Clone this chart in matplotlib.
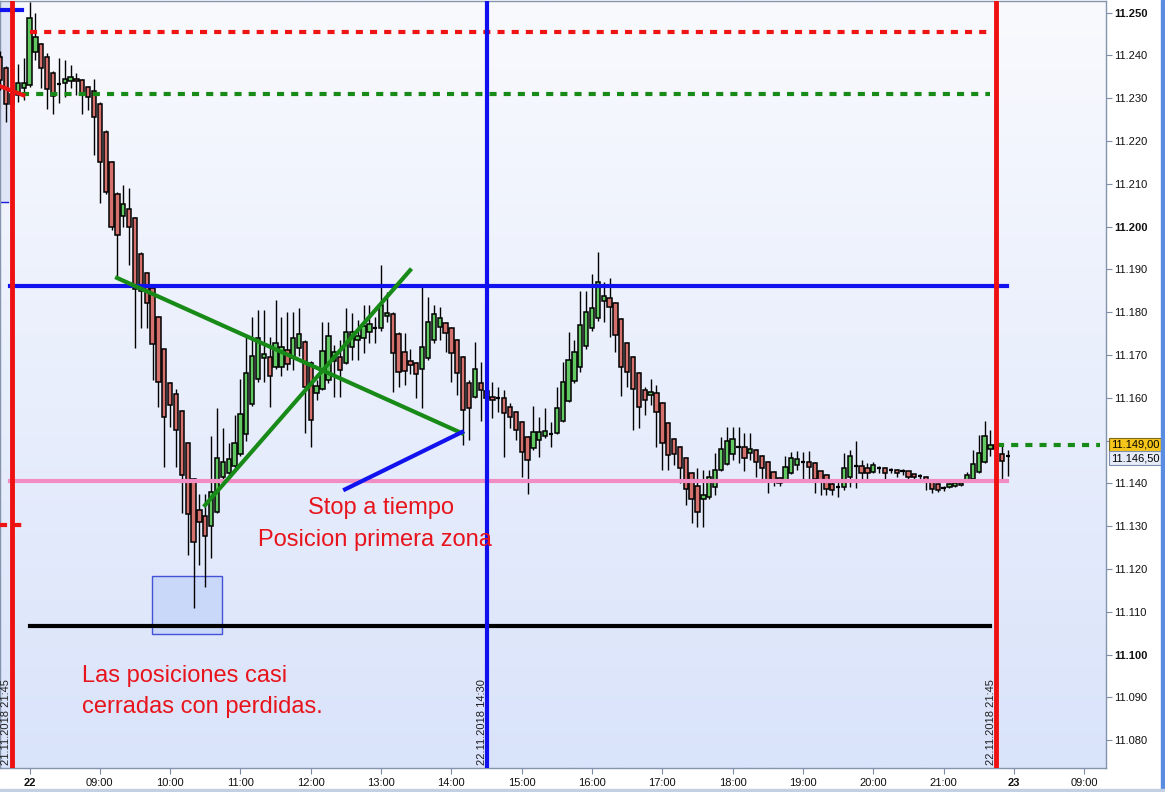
import numpy as np
import matplotlib
matplotlib.use("Agg")
import matplotlib.pyplot as plt
import matplotlib.transforms as mtransforms
from matplotlib.colors import LinearSegmentedColormap
from matplotlib.patches import Rectangle

plt.rcParams['font.family'] = ['Liberation Sans', 'DejaVu Sans']

# velas de 5 minutos; tiempo en horas desde las 08:00 del 22.11
# las 5 primeras son las de 21:35-21:55 del 21.11
t_prev = [-25/60, -20/60, -15/60, -10/60, -5/60]
t_dia = [k/12 for k in range(168)]

opens = [11239.6, 11237.0, 11228.6, 11230.7, 11232.3,
    11233.0, 11240.7, 11242.6, 11239.6, 11235.8, 11233.3, 11233.5, 11234.0, 11234.4, 11234.2,
    11232.6, 11231.6, 11228.6, 11222.1, 11215.0, 11207.6, 11202.4, 11204.1, 11202.0, 11193.5,
    11189.1, 11185.6, 11178.8, 11171.3, 11163.4, 11160.9, 11156.9, 11149.4, 11141.0, 11133.7,
    11132.3, 11130.0, 11133.2, 11141.5, 11142.4, 11144.0, 11146.8, 11151.5, 11158.5, 11164.4,
    11169.3, 11169.5, 11167.2, 11167.2, 11171.1, 11169.3, 11171.6, 11173.0, 11168.1, 11161.0,
    11162.0, 11164.1, 11168.6, 11169.5, 11168.1, 11171.8, 11173.5, 11173.9, 11175.3, 11176.2,
    11176.2, 11179.0, 11179.5, 11174.9, 11170.7, 11168.6, 11168.1, 11166.7, 11169.3, 11173.5,
    11176.5, 11177.4, 11176.2, 11173.5, 11169.5, 11163.4, 11160.1, 11163.4, 11161.5, 11160.1,
    11159.9, 11159.9, 11157.8, 11156.6, 11154.3, 11150.8, 11148.2, 11150.1, 11151.0, 11151.5,
    11151.7, 11154.5, 11159.2, 11163.9, 11167.2, 11172.1, 11176.2, 11178.6, 11182.6, 11183.3,
    11182.1, 11178.4, 11172.8, 11169.5, 11165.8, 11161.8, 11160.6, 11161.1, 11158.7, 11154.0,
    11150.3, 11148.5, 11145.9, 11142.4, 11139.3, 11136.3, 11136.8, 11139.1, 11143.1, 11144.5,
    11146.9, 11148.5, 11148.5, 11147.0, 11147.8, 11146.4, 11145.0, 11142.6, 11141.2, 11140.8,
    11142.4, 11144.3, 11145.0, 11145.0, 11144.7, 11142.8, 11141.9, 11139.8, 11139.1, 11139.1,
    11141.5, 11144.0, 11144.0, 11143.6, 11142.6, 11143.6, 11143.6, 11143.1, 11143.1, 11142.8,
    11142.8, 11142.1, 11141.7, 11141.5, 11140.3, 11139.8, 11138.9, 11139.1, 11139.4, 11139.6,
    11140.6, 11141.0, 11142.6, 11145.0, 11148.0, 11149.0, 11146.8, 11146.5]

highs = [11241.0, 11237.5, 11233.0, 11237.9, 11239.3,
    11252.4, 11249.9, 11242.9, 11240.5, 11236.3, 11239.3, 11238.9, 11237.7, 11235.8, 11234.5,
    11232.8, 11234.4, 11229.0, 11222.5, 11215.3, 11208.0, 11209.7, 11209.0, 11202.3, 11194.0,
    11189.5, 11186.0, 11179.2, 11171.5, 11163.6, 11162.0, 11157.1, 11149.6, 11141.2, 11137.5,
    11137.5, 11151.0, 11157.6, 11152.9, 11149.4, 11156.0, 11164.4, 11174.9, 11178.8, 11180.4,
    11180.4, 11174.2, 11182.8, 11178.8, 11180.0, 11180.0, 11180.9, 11173.5, 11168.5, 11164.1,
    11177.7, 11177.7, 11172.3, 11173.5, 11180.9, 11179.7, 11178.1, 11181.6, 11181.6, 11178.8,
    11191.0, 11184.6, 11180.0, 11175.3, 11175.1, 11171.3, 11168.4, 11185.8, 11183.5, 11181.6,
    11181.1, 11177.7, 11176.5, 11173.8, 11169.8, 11164.1, 11173.0, 11168.3, 11163.0, 11163.6,
    11162.5, 11161.8, 11158.7, 11156.9, 11154.5, 11151.0, 11158.0, 11155.5, 11157.6, 11154.3,
    11162.5, 11168.3, 11175.3, 11173.5, 11184.9, 11184.9, 11188.9, 11194.0, 11187.0, 11187.9,
    11182.3, 11178.6, 11173.0, 11169.8, 11166.0, 11162.5, 11164.4, 11163.0, 11159.0, 11154.3,
    11150.6, 11148.7, 11146.1, 11142.6, 11143.6, 11143.1, 11143.1, 11147.0, 11150.8, 11153.1,
    11153.1, 11153.1, 11151.7, 11151.7, 11148.0, 11146.6, 11145.2, 11142.8, 11141.4, 11146.4,
    11147.3, 11147.5, 11147.3, 11147.5, 11144.9, 11143.0, 11142.1, 11140.8, 11140.8, 11147.0,
    11147.8, 11149.9, 11145.4, 11144.7, 11145.0, 11144.0, 11143.8, 11143.6, 11143.3, 11143.3,
    11143.0, 11142.3, 11142.1, 11141.7, 11140.5, 11140.0, 11139.4, 11140.0, 11140.3, 11140.3,
    11142.6, 11147.8, 11151.2, 11154.5, 11152.4, 11150.5, 11148.9, 11147.8]

lows = [11232.0, 11224.4, 11226.0, 11229.1, 11229.5,
    11232.5, 11238.9, 11232.3, 11227.4, 11226.3, 11228.8, 11230.2, 11232.3, 11230.7, 11226.3,
    11227.2, 11216.7, 11205.5, 11207.5, 11199.2, 11188.0, 11199.9, 11191.0, 11171.6, 11176.4,
    11176.4, 11164.1, 11157.8, 11143.8, 11153.1, 11143.8, 11133.0, 11123.2, 11110.8, 11120.9,
    11115.7, 11122.6, 11133.0, 11140.8, 11140.8, 11143.5, 11146.5, 11150.0, 11158.0, 11163.6,
    11163.6, 11157.8, 11166.8, 11165.0, 11166.5, 11166.5, 11169.7, 11151.7, 11148.5, 11159.4,
    11161.8, 11163.5, 11160.1, 11160.1, 11167.9, 11168.8, 11168.8, 11170.4, 11172.8, 11172.8,
    11175.5, 11177.7, 11161.3, 11162.5, 11163.0, 11165.5, 11159.9, 11157.6, 11168.8, 11172.8,
    11173.5, 11170.7, 11163.6, 11160.6, 11148.9, 11150.1, 11159.9, 11154.5, 11158.0, 11155.3,
    11156.6, 11146.1, 11152.9, 11150.1, 11141.5, 11137.5, 11147.8, 11146.1, 11150.6, 11148.5,
    11151.5, 11154.3, 11159.0, 11163.5, 11166.0, 11171.5, 11175.5, 11178.0, 11177.7, 11174.2,
    11170.7, 11160.4, 11162.5, 11152.4, 11152.9, 11155.9, 11158.3, 11148.5, 11143.1, 11143.1,
    11144.2, 11140.1, 11134.9, 11130.7, 11129.7, 11129.7, 11136.3, 11137.2, 11143.0, 11144.3,
    11145.4, 11144.7, 11142.8, 11145.4, 11141.5, 11140.8, 11137.7, 11139.4, 11139.4, 11140.6,
    11142.2, 11143.1, 11140.8, 11140.8, 11137.7, 11137.2, 11137.2, 11137.2, 11136.8, 11138.4,
    11139.1, 11138.9, 11140.8, 11140.8, 11142.4, 11142.4, 11140.8, 11142.4, 11141.5, 11141.9,
    11140.8, 11140.8, 11141.0, 11138.4, 11137.7, 11137.9, 11138.2, 11138.9, 11139.2, 11139.4,
    11140.4, 11140.8, 11142.4, 11144.7, 11146.4, 11146.0, 11141.0, 11141.7]

closes = [11234.2, 11228.6, 11231.0, 11233.5, 11233.5,
    11248.7, 11244.3, 11237.0, 11232.1, 11230.5, 11233.3, 11234.4, 11234.9, 11234.0, 11230.9,
    11230.2, 11225.6, 11215.0, 11208.0, 11199.9, 11198.0, 11205.3, 11199.9, 11185.4, 11184.9,
    11182.1, 11172.5, 11163.6, 11155.4, 11158.3, 11152.4, 11142.0, 11132.8, 11126.3, 11130.9,
    11127.7, 11137.9, 11145.9, 11145.0, 11145.7, 11149.4, 11156.2, 11165.8, 11169.7, 11173.9,
    11170.2, 11165.0, 11172.8, 11171.8, 11167.9, 11173.9, 11174.9, 11162.5, 11154.8, 11162.7,
    11170.9, 11174.4, 11170.7, 11166.5, 11175.3, 11175.3, 11174.4, 11176.7, 11177.2, 11176.2,
    11181.6, 11179.7, 11170.4, 11166.0, 11166.2, 11167.6, 11165.5, 11171.8, 11177.7, 11179.5,
    11178.6, 11175.1, 11170.4, 11165.8, 11157.1, 11157.6, 11166.7, 11161.8, 11160.0, 11159.4,
    11159.9, 11156.4, 11155.5, 11152.4, 11147.3, 11145.4, 11151.9, 11151.9, 11152.2, 11151.5,
    11157.6, 11163.6, 11168.8, 11170.7, 11177.0, 11180.0, 11180.9, 11187.0, 11183.7, 11181.2,
    11174.6, 11167.2, 11166.0, 11162.0, 11157.8, 11159.4, 11161.3, 11156.6, 11149.4, 11146.6,
    11146.8, 11143.6, 11138.7, 11136.3, 11133.2, 11137.2, 11141.5, 11143.1, 11148.0, 11149.9,
    11150.3, 11148.5, 11145.9, 11148.0, 11144.9, 11143.6, 11140.8, 11140.8, 11140.1, 11143.8,
    11145.9, 11145.7, 11145.0, 11143.8, 11141.0, 11140.8, 11138.7, 11138.4, 11139.1, 11143.6,
    11146.4, 11144.0, 11142.4, 11142.4, 11144.2, 11143.6, 11142.4, 11143.1, 11142.4, 11142.8,
    11141.5, 11141.5, 11141.7, 11140.3, 11138.7, 11138.4, 11138.9, 11139.8, 11140.1, 11140.1,
    11142.0, 11144.5, 11147.0, 11151.0, 11149.0, 11148.0, 11145.2, 11146.5]

# niveles horizontales
nivel_rojo = 11245.4
nivel_verde = 11230.9
nivel_azul = 11186.1
nivel_rosa = 11140.5
nivel_negro = 11106.6
nivel_verde_dcha = 11149.0
nivel_rojo_izq = 11130.3

# lineas de tendencia (hora, precio)
verde1_t, verde1_p = [1.245, 6.152], [11188.0, 11151.7]
verde2_t, verde2_p = [2.496, 5.413], [11134.9, 11189.8]
azul_t, azul_p = [4.488, 6.152], [11138.6, 11152.0]

# verticales: 21.11 21:45, 22.11 14:30, 22.11 21:45
v_rojo1, v_azul, v_rojo2 = -0.25, 6.5, 13.75

xticks_pos = list(range(16))
xticks_lab = ['22', '09:00', '10:00', '11:00', '12:00', '13:00', '14:00', '15:00',
              '16:00', '17:00', '18:00', '19:00', '20:00', '21:00', '23', '09:00']
yticks_pos = list(range(11080, 11251, 10))

t = np.array(t_prev + t_dia)
o = np.array(opens); h = np.array(highs); l = np.array(lows); c = np.array(closes)

fig = plt.figure(figsize=(11.65, 7.92), dpi=100)
ax = fig.add_axes([0, 24/792, 1106/1165, 767/792])
x0, x1 = -0.42, 15.31
y0, y1 = 11073.5, 11252.7

# fondo degradado
cmap = LinearSegmentedColormap.from_list('fondo', ['#d9e3fa', '#f9fafe'])
ax.imshow(np.linspace(0, 1, 256).reshape(-1, 1), cmap=cmap, origin='lower',
          extent=[x0, x1, y0, y1], aspect='auto', zorder=0)
ax.add_patch(Rectangle((x0, 11205.7), -0.28 - x0, y1 - 11205.7, fc='#dfe4f6', ec='none', zorder=0.5))
ax.plot([x0, -0.31], [11205.7, 11205.7], color='#1a1ae0', lw=1, zorder=1)

# caja azul
ax.add_patch(Rectangle((1.743, 11104.8), 0.995, 13.5, fc='#c6d5f8', ec='#2a3ad0', lw=1, alpha=0.85, zorder=2))

# velas
w = 0.74 / 12
ax.vlines(t, l, h, color='black', lw=1, zorder=3)
lo = np.minimum(o, c); hh = np.abs(c - o)
up = c > o; dn = c < o; fl = c == o
ax.bar(t[up], hh[up], w, bottom=lo[up], color='#62c962', edgecolor='black', lw=1.1, zorder=4)
ax.bar(t[dn], hh[dn], w, bottom=lo[dn], color='#d4716d', edgecolor='black', lw=1.1, zorder=4)
ax.hlines(o[fl], t[fl] - w/2, t[fl] + w/2, color='black', lw=1.6, zorder=4)

# niveles
dot = (0, (1.7, 1.7))
ax.plot([0, 13.66], [nivel_rojo]*2, color='#ee1414', lw=3, ls=dot, zorder=6)
ax.plot([-0.1, 13.66], [nivel_verde]*2, color='#178a17', lw=3, ls=dot, zorder=6)
ax.plot([13.76, 15.23], [nivel_verde_dcha]*2, color='#178a17', lw=3, ls=dot, zorder=6)
ax.plot([x0, -0.1], [nivel_rojo_izq]*2, color='#ee1414', lw=3, ls=dot, zorder=6)
ax.plot([-0.28, 13.9], [nivel_azul]*2, color='#1212ee', lw=3, zorder=6)
ax.plot([-0.28, 13.9], [nivel_rosa]*2, color='#f28cc4', lw=3, zorder=6)
ax.plot([0, 13.66], [nivel_negro]*2, color='black', lw=3, zorder=6)
ax.plot([x0, -0.1], [11250.6]*2, color='#1212ee', lw=3, zorder=6)
ax.plot([x0, -0.09], [11232.8, 11230.7], color='#ee1414', lw=3, zorder=6)

ax.plot(verde1_t, verde1_p, color='#178a17', lw=3, zorder=7)
ax.plot(verde2_t, verde2_p, color='#178a17', lw=3, zorder=7)
ax.plot(azul_t, azul_p, color='#1212ee', lw=3, zorder=7)

ax.axvline(v_rojo1, color='#ee1111', lw=3.5, zorder=8)
ax.axvline(v_azul, color='#1010ee', lw=3, zorder=8)
ax.axvline(v_rojo2, color='#ee1111', lw=3.5, zorder=8)

trans = mtransforms.blended_transform_factory(ax.transData, ax.transAxes)
for xt, s in [(-0.334, '21.11.2018 21:45'), (6.43, '22.11.2018 14:30'), (13.68, '22.11.2018 21:45')]:
    ax.text(xt, 0.004, s, rotation=90, transform=trans, ha='center', va='bottom',
            fontsize=8, color='#202020', zorder=9)

rojo_txt = '#e8141c'
ax.text(5.0, 11134.2, 'Stop a tiempo', color=rojo_txt, fontsize=17, ha='center', va='center', zorder=9)
ax.text(4.908, 11126.7, 'Posicion primera zona', color=rojo_txt, fontsize=17, ha='center', va='center', zorder=9)
ax.text(0.747, 11095.0, 'Las posiciones casi', color=rojo_txt, fontsize=17, ha='left', va='center', zorder=9)
ax.text(0.747, 11087.7, 'cerradas con perdidas.', color=rojo_txt, fontsize=17, ha='left', va='center', zorder=9)

# ejes
ax.set_xlim(x0, x1)
ax.set_ylim(y0, y1)
ax.yaxis.tick_right()
ax.set_yticks(yticks_pos)
ax.set_yticklabels(['' if v == 11150 else f'{v/1000:.3f}' for v in yticks_pos])
for lab, v in zip(ax.get_yticklabels(), yticks_pos):
    if v % 50 == 0:
        lab.set_fontweight('bold')
        lab.set_fontsize(9)
ax.set_xticks(xticks_pos)
ax.set_xticklabels(xticks_lab)
for lab in ax.get_xticklabels():
    if ':' not in lab.get_text():
        lab.set_fontweight('bold')
        lab.set_fontsize(9)
ax.tick_params(axis='both', direction='out', length=4, color='#7f8ea6', labelsize=8, labelcolor='#111111')
ax.tick_params(axis='y', pad=2)
ax.tick_params(axis='x', pad=3)
for sp in ax.spines.values():
    sp.set_color('#8494ac')
    sp.set_linewidth(1)

tr2 = mtransforms.blended_transform_factory(ax.transAxes, ax.transData)
ax.text(1.0045, nivel_verde_dcha, '11.149,00', transform=tr2, fontsize=8, va='center', ha='left',
        bbox=dict(boxstyle='square,pad=0.15', fc='#f6c61a', ec='#7a6a20', lw=0.8), zorder=10)
ax.text(1.0045, c[-1] - 0.6, '11.146,50', transform=tr2, fontsize=8, va='center', ha='left',
        bbox=dict(boxstyle='square,pad=0.15', fc='#e6ecf8', ec='#8090b0', lw=0.8), zorder=10)

# bordes de la ventana
fig.patches.append(Rectangle((1161/1165, 0), 4/1165, 1, transform=fig.transFigure, color='#5a8de2'))
fig.patches.append(Rectangle((0, 0), 1, 3/792, transform=fig.transFigure, color='#c3cfe2'))

fig.savefig('out.png', dpi=100)
